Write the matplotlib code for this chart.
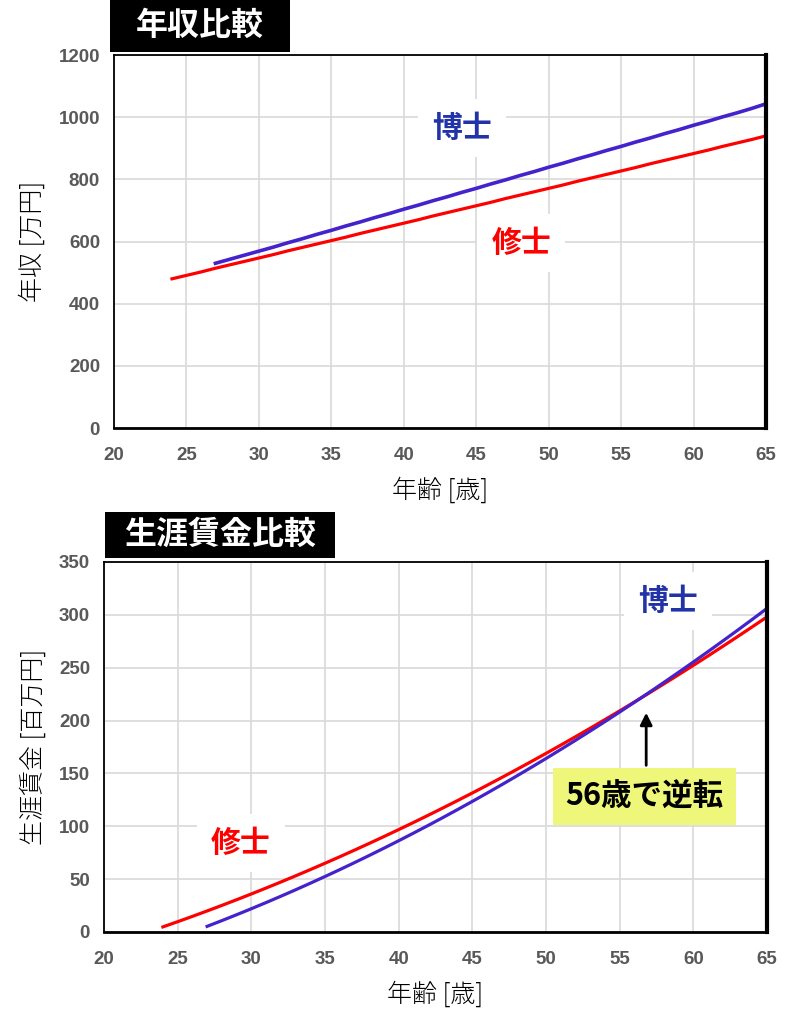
import numpy as np
import matplotlib.pyplot as plt
from matplotlib.patches import Rectangle

plt.rcParams['font.family'] = ['Noto Sans CJK JP', 'DejaVu Sans']

# 年収データ [万円]
age_ms = np.arange(24, 66)
income_ms = [480, 491, 502, 514, 525, 536, 547, 558, 570, 581, 592, 603, 614, 626,
             637, 648, 659, 670, 682, 693, 704, 715, 726, 738, 749, 760, 771, 782,
             794, 805, 816, 827, 838, 850, 861, 872, 883, 894, 906, 917, 928, 940]
age_phd = np.arange(27, 66)
income_phd = [530, 543, 556, 569, 582, 596, 609, 623, 636, 650, 663, 677, 690, 704,
              717, 731, 744, 758, 771, 785, 798, 812, 825, 839, 852, 866, 879, 893,
              906, 920, 933, 947, 960, 974, 987, 1001, 1014, 1028, 1043]

# 生涯賃金 [百万円] = 年収の累積
life_ms = np.cumsum(income_ms) / 100
life_phd = np.cumsum(income_phd) / 100

RED = '#FF0000'
BLUE = '#4422CC'
BLUE_TXT = '#2233A8'
TICK = '#595959'
GRID = '#D9D9D9'

fig = plt.figure(figsize=(7.9, 10.21), dpi=100)

def style(ax, ylim, yticks, ylabel):
    ax.set_xlim(20, 65)
    ax.set_ylim(*ylim)
    ax.set_xticks(range(20, 66, 5))
    ax.set_yticks(yticks)
    ax.grid(True, color=GRID, lw=1.2)
    ax.set_axisbelow(True)
    ax.tick_params(length=0, labelsize=13.5, labelcolor=TICK)
    ax.tick_params(axis='x', pad=14)
    ax.tick_params(axis='y', pad=10)
    for lab in ax.get_xticklabels() + ax.get_yticklabels():
        lab.set_family(['Liberation Sans', 'DejaVu Sans'])
        lab.set_fontweight('bold')
    for s in ax.spines.values():
        s.set_color('black')
        s.set_linewidth(1.3)
    ax.spines['right'].set_linewidth(3)
    ax.spines['bottom'].set_linewidth(2)
    ax.set_xlabel('年齢 [歳]', fontsize=18, fontweight='light', labelpad=9)
    ax.set_ylabel(ylabel, fontsize=18, fontweight='light', labelpad=9)

def title_box(x0, y0, w, h, text):
    fig.patches.append(Rectangle((x0, y0), w, h, transform=fig.transFigure,
                                 facecolor='black', edgecolor='none', zorder=0))
    fig.text(x0 + w / 2, y0 + h / 2, text, color='white', fontsize=23,
             fontweight='bold', ha='center', va='center')

def label(ax, x, y, text, color):
    ax.text(x, y, text, color=color, fontsize=21.5, fontweight='bold',
            ha='center', va='center',
            bbox=dict(facecolor='white', edgecolor='none', pad=10))

# --- 年収比較 ---
ax1 = fig.add_axes([0.1443, 0.5808, 0.8253, 0.3653])
ax1.plot(age_ms, income_ms, color=RED, lw=2.3)
ax1.plot(age_phd, income_phd, color=BLUE, lw=2.6)
style(ax1, (0, 1200), range(0, 1201, 200), '年収 [万円]')
label(ax1, 44, 965, '博士', BLUE_TXT)
label(ax1, 48.1, 595, '修士', RED)
title_box(110 / 790, 1 - 52 / 1021, 180 / 790, 52 / 1021, '年収比較')

# --- 生涯賃金比較 ---
ax2 = fig.add_axes([0.1316, 0.0872, 0.8393, 0.3624])
ax2.plot(age_ms, life_ms, color=RED, lw=2.3)
ax2.plot(age_phd, life_phd, color=BLUE, lw=2.3)
style(ax2, (0, 350), range(0, 351, 50), '生涯賃金 [百万円]')
label(ax2, 58.3, 313, '博士', BLUE_TXT)
label(ax2, 29.3, 84, '修士', RED)
ax2.annotate('', xy=(56.8, 210), xytext=(56.8, 155),
             arrowprops=dict(arrowstyle='-|>', color='black', lw=2,
                             mutation_scale=18))
ax2.text(56.7, 128, '56歳で逆転', color='black', fontsize=22, fontweight='bold',
         ha='center', va='center',
         bbox=dict(facecolor='#EEF77A', edgecolor='none', pad=9))
title_box(105 / 790, 1 - 558 / 1021, 230 / 790, 46 / 1021, '生涯賃金比較')

fig.savefig('out.png', dpi=100)
